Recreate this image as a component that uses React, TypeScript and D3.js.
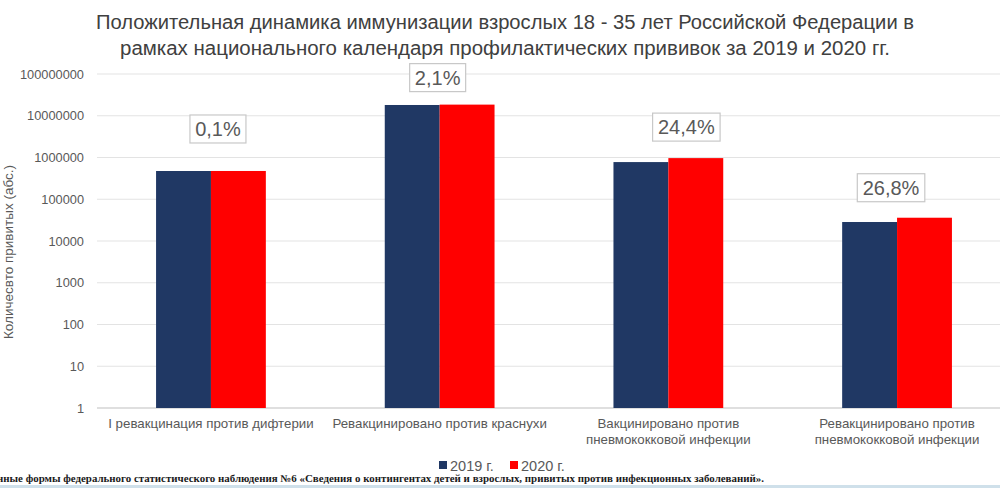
import React, { useEffect, useRef } from "react";
import * as d3 from "d3";

const categories = [
  ["I ревакцинация против дифтерии"],
  ["Ревакцинировано против краснухи"],
  ["Вакцинировано против", "пневмококковой инфекции"],
  ["Ревакцинировано против", "пневмококковой инфекции"],
];
const series = ["2019 г.", "2020 г."];
const values2019 = [475000, 18100000, 777000, 28500];
const values2020 = [475500, 18480000, 967000, 36100];
const growthLabels = ["0,1%", "2,1%", "24,4%", "26,8%"];
const yTicks = [1, 10, 100, 1000, 10000, 100000, 1000000, 10000000, 100000000];

const colors = ["#203864", "#ff0000"];
// hand-placed label nudges (dx from group centre, gap above tallest bar)
const labelNudge = [
  [7, 28],
  [-2, 13],
  [18, 17],
  [-6, 16],
];

export default function App() {
  const svgRef = useRef<SVGSVGElement>(null);

  useEffect(() => {
    const w = 1000;
    const h = 488;
    const svg = d3.select(svgRef.current);
    svg.selectAll("*").remove();
    svg.attr("width", w).attr("height", h);

    svg.append("rect").attr("width", w).attr("height", h).attr("fill", "#fff");

    const sans = "Arial, 'Liberation Sans', sans-serif";
    const textGray = "#595959";

    // title
    const title = [
      "Положительная динамика иммунизации взрослых 18 - 35 лет Российской Федерации в",
      "рамках национального календаря профилактических прививок за 2019 и 2020 гг.",
    ];
    svg
      .append("g")
      .selectAll("text")
      .data(title)
      .join("text")
      .attr("x", 505)
      .attr("y", (d, i) => 29 + i * 26)
      .attr("text-anchor", "middle")
      .attr("font-family", sans)
      .attr("font-size", 20)
      .attr("fill", "#404040")
      .attr("textLength", (d, i) => (i === 0 ? 818 : 770))
      .attr("lengthAdjust", "spacingAndGlyphs")
      .text((d) => d);

    const y = d3.scaleLog().domain([1, 1e8]).range([408, 74]);
    const x0 = d3
      .scaleBand<number>()
      .domain(d3.range(categories.length))
      .range([96.6, 1011.4])
      .paddingInner(0.52)
      .paddingOuter(0.26);
    const x1 = d3
      .scaleBand<number>()
      .domain(d3.range(series.length))
      .range([0, x0.bandwidth()]);

    // grid
    const grid = svg.append("g");
    grid
      .selectAll("line")
      .data(yTicks)
      .join("line")
      .attr("x1", 97)
      .attr("x2", 1000)
      .attr("y1", (d) => y(d))
      .attr("y2", (d) => y(d))
      .attr("stroke", (d) => (d === 1 ? "#bfbfbf" : "#e3e3e3"))
      .attr("stroke-width", 1.2);

    // y axis labels
    const yAxis = d3
      .axisLeft(y)
      .tickValues(yTicks)
      .tickFormat((d) => String(d))
      .tickSize(0)
      .tickPadding(0);
    const ya = svg.append("g").attr("transform", "translate(84,0)").call(yAxis);
    ya.select(".domain").remove();
    ya.selectAll("text")
      .attr("font-family", sans)
      .attr("font-size", 12.8)
      .attr("fill", textGray);

    svg
      .append("text")
      .attr("transform", "translate(13,252) rotate(-90)")
      .attr("text-anchor", "middle")
      .attr("font-family", sans)
      .attr("font-size", 13.5)
      .attr("fill", textGray)
      .text("Количесвто привитых (абс.)");

    // bars
    const groups = svg
      .append("g")
      .selectAll("g")
      .data(categories.map((c, i) => [values2019[i], values2020[i]]))
      .join("g")
      .attr("transform", (d, i) => `translate(${x0(i)},0)`);
    groups
      .selectAll("rect")
      .data((d) => d)
      .join("rect")
      .attr("x", (d, j) => x1(j)!)
      .attr("width", x1.bandwidth())
      .attr("y", (d) => y(d))
      .attr("height", (d) => y(1) - y(d))
      .attr("fill", (d, j) => colors[j]);

    // growth labels
    const lbl = svg
      .append("g")
      .selectAll("g")
      .data(growthLabels)
      .join("g")
      .attr("transform", (d, i) => {
        const cx = x0(i)! + x0.bandwidth() / 2 + labelNudge[i][0];
        const top = y(Math.max(values2019[i], values2020[i])) - labelNudge[i][1];
        return `translate(${cx},${top})`;
      });
    lbl
      .append("rect")
      .attr("x", (d) => -(d.length * 11.5 + 10) / 2)
      .attr("width", (d) => d.length * 11.5 + 10)
      .attr("y", -28)
      .attr("height", 28)
      .attr("fill", "#fff")
      .attr("stroke", "#c8c8c8")
      .attr("stroke-width", 1.2);
    lbl
      .append("text")
      .attr("y", -7)
      .attr("text-anchor", "middle")
      .attr("font-family", sans)
      .attr("font-size", 20)
      .attr("fill", textGray)
      .text((d) => d);

    // category labels
    svg
      .append("g")
      .selectAll("text")
      .data(categories)
      .join("text")
      .attr("x", (d, i) => x0(i)! + x0.bandwidth() / 2)
      .attr("y", 428)
      .attr("text-anchor", "middle")
      .attr("font-family", sans)
      .attr("font-size", 13.3)
      .attr("fill", textGray)
      .selectAll("tspan")
      .data((d) => d)
      .join("tspan")
      .attr("x", function () {
        return (this.parentNode as SVGTextElement).getAttribute("x");
      })
      .attr("dy", (d, i) => (i === 0 ? 0 : 16))
      .text((d) => d);

    // legend
    const legendX = [439, 510];
    const leg = svg
      .append("g")
      .selectAll("g")
      .data(series)
      .join("g")
      .attr("transform", (d, i) => `translate(${legendX[i]},465)`);
    leg
      .append("rect")
      .attr("x", 0)
      .attr("y", -4)
      .attr("width", 8)
      .attr("height", 8)
      .attr("fill", (d, i) => colors[i]);
    leg
      .append("text")
      .attr("x", 11)
      .attr("y", 5.5)
      .attr("font-family", sans)
      .attr("font-size", 14.5)
      .attr("fill", textGray)
      .text((d) => d);

    // source footnote (cropped at left)
    svg
      .append("text")
      .attr("x", -14)
      .attr("y", 482)
      .attr("font-family", "'Liberation Serif', 'Times New Roman', serif")
      .attr("font-size", 10.5)
      .attr("font-weight", "bold")
      .attr("fill", "#1a1a1a")
      .attr("textLength", 778)
      .attr("lengthAdjust", "spacingAndGlyphs")
      .text(
        "данные формы федерального статистического наблюдения №6 «Сведения о контингентах детей и взрослых, привитых против инфекционных заболеваний»."
      );

    svg
      .append("rect")
      .attr("x", 0)
      .attr("y", 485)
      .attr("width", w)
      .attr("height", 3)
      .attr("fill", "#cfe0ea");
  }, []);

  return (
    <div style={{ position: "absolute", left: 0, top: 0 }}>
      <svg ref={svgRef} style={{ display: "block" }}></svg>
    </div>
  );
}
